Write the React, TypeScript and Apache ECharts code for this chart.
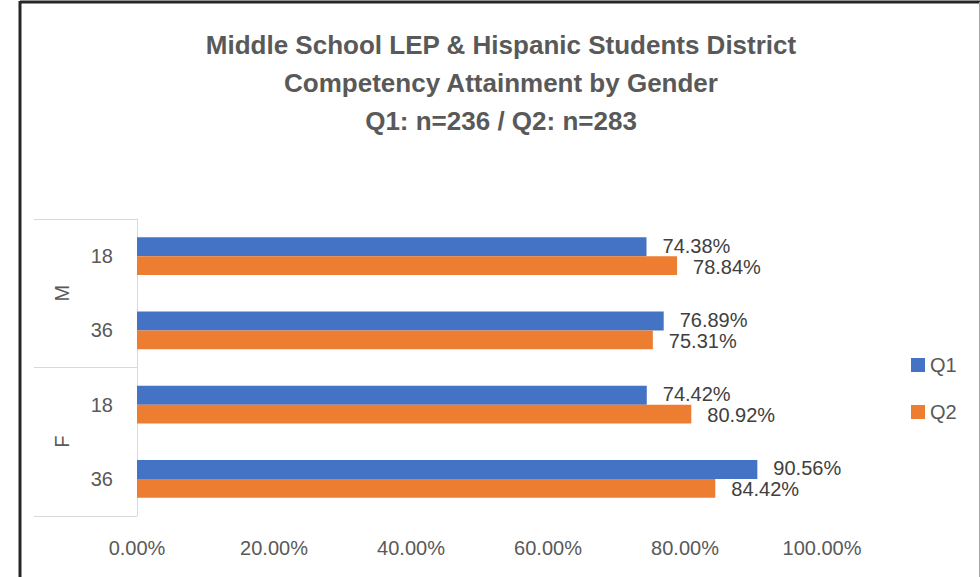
import React, { useEffect, useRef } from "react";
import * as echarts from "echarts";

const titleLines = [
  "Middle School LEP & Hispanic Students District",
  "Competency Attainment by Gender",
  "Q1: n=236 / Q2: n=283",
];
const groups = ["M", "F"];
const subCategories = ["18", "36", "18", "36"];
const q1Values = [74.38, 76.89, 74.42, 90.56];
const q2Values = [78.84, 75.31, 80.92, 84.42];
const seriesNames = ["Q1", "Q2"];
const colors = ["#4472C4", "#ED7D31"];

const FONT = "Liberation Sans";

export default function App() {
  const ref = useRef<HTMLDivElement>(null);
  useEffect(() => {
    if (!ref.current) return;
    const chart = echarts.init(ref.current, undefined, { renderer: "svg" });
    const pct = (v: number) => v.toFixed(2) + "%";
    const labelCfg = (dy: number) => ({
      show: true,
      position: "right",
      distance: 16,
      offset: [0, dy],
      fontFamily: FONT,
      fontSize: 20,
      lineHeight: 18,
      color: "#404040",
      formatter: (p: any) => pct(p.value),
    });
    chart.setOption({
      animation: false,
      backgroundColor: "#ffffff",
      title: {
        text: titleLines.join("\n"),
        left: 501,
        textAlign: "center",
        top: 26,
        padding: 0,
        textStyle: {
          fontFamily: FONT,
          fontWeight: "bold",
          fontSize: 26,
          lineHeight: 38,
          color: "#595959",
        },
      },
      legend: {
        orient: "vertical",
        left: 906,
        top: 350,
        itemWidth: 14,
        itemHeight: 14,
        itemGap: 27,
        icon: "rect",
        data: seriesNames,
        textStyle: { fontFamily: FONT, fontSize: 20, color: "#595959" },
      },
      grid: { left: 137, right: 158, top: 219, bottom: 61 },
      xAxis: {
        type: "value",
        min: 0,
        max: 100,
        interval: 20,
        axisLine: { show: false },
        axisTick: { show: false },
        splitLine: { show: false },
        axisLabel: {
          formatter: (v: number) => pct(v),
          fontFamily: FONT,
          fontSize: 20,
          color: "#595959",
          margin: 22,
        },
      },
      yAxis: [
        {
          type: "category",
          data: subCategories,
          inverse: true,
          axisLine: { show: true, lineStyle: { color: "#d9d9d9", width: 1 } },
          axisTick: { show: false },
          axisLabel: {
            fontFamily: FONT,
            fontSize: 20,
            color: "#595959",
            margin: 24,
          },
        },
        {
          type: "category",
          data: groups,
          inverse: true,
          position: "left",
          offset: 103,
          axisLine: { show: false },
          axisTick: {
            show: true,
            inside: true,
            length: 103,
            lineStyle: { color: "#d9d9d9", width: 1 },
          },
          axisLabel: {
            inside: true,
            rotate: 90,
            margin: 18,
            fontFamily: FONT,
            fontSize: 20,
            color: "#595959",
          },
        },
      ],
      series: [
        {
          name: seriesNames[0],
          type: "bar",
          yAxisIndex: 0,
          data: q1Values,
          itemStyle: { color: colors[0] },
          barGap: "0%",
          barCategoryGap: "49%",
          label: labelCfg(-1),
        },
        {
          name: seriesNames[1],
          type: "bar",
          yAxisIndex: 0,
          data: q2Values,
          itemStyle: { color: colors[1] },
          barGap: "0%",
          barCategoryGap: "49%",
          label: labelCfg(1),
        },
      ],
      graphic: [
        { type: "line", shape: { x1: 20, y1: 2, x2: 980, y2: 2 }, style: { stroke: "#262626", lineWidth: 3 } },
        { type: "line", shape: { x1: 20, y1: 1, x2: 20, y2: 577 }, style: { stroke: "#262626", lineWidth: 3 } },
        { type: "line", shape: { x1: 979.5, y1: 2, x2: 979.5, y2: 577 }, style: { stroke: "#a6a6a6", lineWidth: 1 } },
      ],
    });
    return () => chart.dispose();
  }, []);
  return (
    <div
      ref={ref}
      style={{ position: "fixed", left: 0, top: 0, width: 980, height: 577 }}
    />
  );
}
